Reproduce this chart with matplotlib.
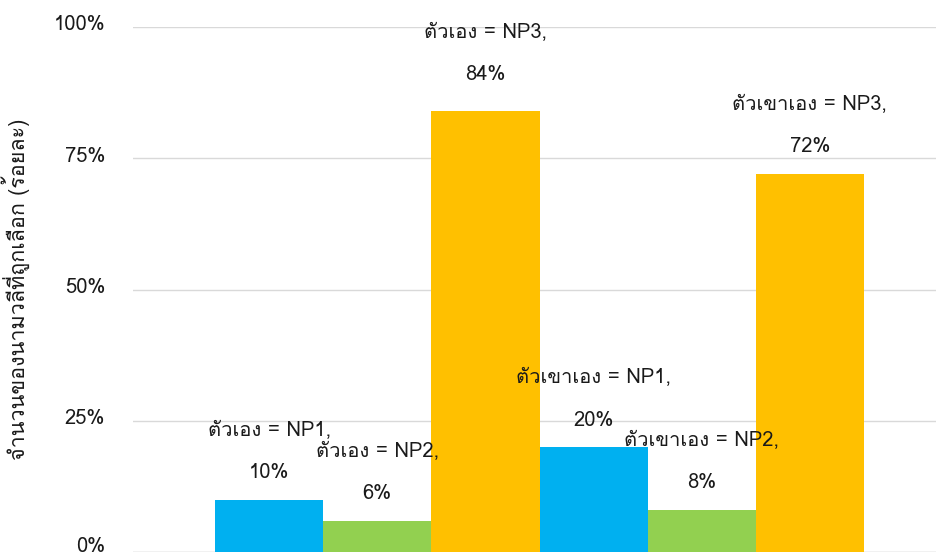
import matplotlib
matplotlib.use("Agg")
import matplotlib.pyplot as plt
import matplotlib.transforms as mtransforms
import numpy as np
from matplotlib import font_manager
from matplotlib.ft2font import FT2Font
from matplotlib.ticker import PercentFormatter

# ข้อมูล: ร้อยละของนามวลีที่ถูกเลือก
groups = ["ตัวเอง", "ตัวเขาเอง"]
series = ["NP1", "NP2", "NP3"]
np1 = [10, 20]
np2 = [6, 8]
np3 = [84, 72]
colors = ["#00B0F0", "#92D050", "#FFC000"]


def thai_font():
    # หาฟอนต์ที่มีอักษรไทย
    for f in font_manager.fontManager.ttflist:
        try:
            if 0x0E15 in FT2Font(f.fname).get_charmap():
                return f.name
        except Exception:
            pass
    return None


fam = thai_font()
plt.rcParams["font.family"] = ([fam] if fam else []) + ["DejaVu Sans"]

fig = plt.figure(figsize=(9.36, 5.57), dpi=100)
ax = fig.add_axes([133 / 936, 5 / 557, 803 / 936, 525 / 557])

width = 1 / 3
x = np.arange(len(groups))
values = [np1, np2, np3]
for i, (name, vals) in enumerate(zip(series, values)):
    bars = ax.bar(x + (i - 1) * width, vals, width, color=colors[i], zorder=2)
    for g, rect, v in zip(groups, bars, vals):
        cx = rect.get_x() + rect.get_width() / 2
        lift = 36 if v > 80 else 27
        ax.annotate(f"{v}%", (cx, v), xytext=(0, lift * 0.72), textcoords="offset points",
                    ha="center", va="center", fontsize=14.5, color="#1a1a1a", zorder=3)
        ax.annotate(f"{g} = {name},", (cx, v), xytext=(0, (lift + 42) * 0.72),
                    textcoords="offset points", ha="center", va="center",
                    fontsize=14.5, color="#1a1a1a", zorder=3)

ax.set_xlim(-0.753, 1.722)
ax.set_ylim(0, 100)
ax.set_yticks([0, 25, 50, 75, 100])
ax.yaxis.set_major_formatter(PercentFormatter(decimals=0))
ax.set_xticks([])
ax.tick_params(axis="y", length=0, pad=20, labelsize=14.5, labelcolor="#1a1a1a")
# ยกป้ายแกน y ขึ้นเล็กน้อย (0% ยกมากกว่าเพื่อไม่ให้ตกขอบล่าง)
for k, lbl in enumerate(ax.get_yticklabels()):
    up = 7 if k == 0 else 4
    lbl.set_transform(lbl.get_transform() + mtransforms.ScaledTranslation(0, up / 100, fig.dpi_scale_trans))
ax.grid(axis="y", color="#D9D9D9", linewidth=1, zorder=0)
for s in ax.spines.values():
    s.set_visible(False)
ax.axhline(0, color="#D9D9D9", linewidth=1, zorder=1)

ax.set_ylabel("จำนวนของนามวลีที่ถูกเลือก (ร้อยละ)", fontsize=15.5, color="#1a1a1a")
ax.yaxis.set_label_coords(-0.128, 0.5)

fig.savefig("out.png", dpi=100)
